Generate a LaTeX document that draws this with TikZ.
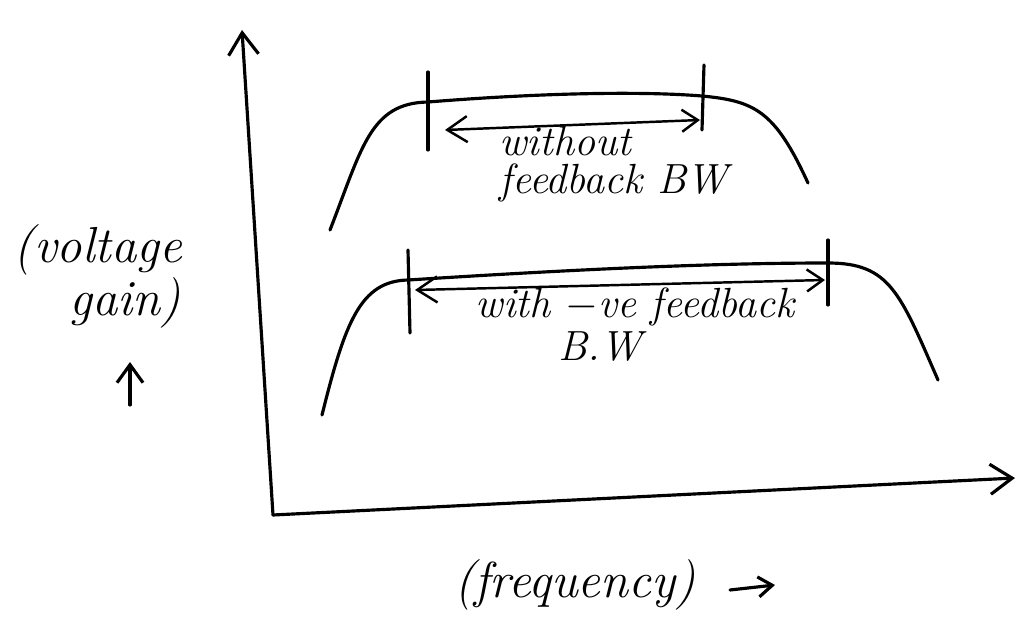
\documentclass[tikz,border=0pt]{standalone}
\usepackage{amsmath}
\usetikzlibrary{arrows.meta}

\tikzset{
 pen/.style={line width=0.9pt, line cap=round, line join=round},
 axisarrow/.style={pen, -{Straight Barb[length=2.2mm,width=3mm]}},
 bwarrow/.style={pen, line width=0.7pt, {Straight Barb[length=2mm,width=2.6mm]}-{Straight Barb[length=1.6mm,width=2.2mm]}},
 marker/.style={pen},
 handtext/.style={font=\itshape\large, inner sep=0.5pt},
 bigtext/.style={font=\itshape\Large, inner sep=1pt}
}

\begin{document}
\begin{tikzpicture}
\useasboundingbox (0,0) rectangle (10.21,6.43);
%%%%%axes start here
\coordinate (O) at (2.73,1.28);
\coordinate (ytip) at (2.42,6.13);
\coordinate (xtip) at (10.15,1.65);
\draw[axisarrow] (O) -- (ytip);
\draw[axisarrow] (O) -- (xtip);

%%%%%without feedback curve
\coordinate (a1) at (3.30,4.13);
\coordinate (a2) at (4.28,5.41);
\coordinate (a3) at (7.02,5.47);
\coordinate (a4) at (8.08,4.60);
\draw[pen] (a1) .. controls (3.62,4.95) and (3.70,5.40) .. (a2)
 .. controls (5.40,5.50) and (6.40,5.52) .. (a3)
 .. controls (7.55,5.42) and (7.75,5.32) .. (a4);
\coordinate (ua) at (4.28,5.71);
\coordinate (ub) at (4.28,4.93);
\coordinate (uc) at (7.04,5.78);
\coordinate (ud) at (7.02,5.13);
\draw[marker] (ua) -- (ub);
\draw[marker] (uc) -- (ud);
\coordinate (ul) at (4.45,5.13);
\coordinate (ur) at (7.00,5.23);
\draw[bwarrow] (ul) -- (ur);
\node[handtext, anchor=west, align=left] (wobw) at (4.97,4.79) {without\\[-3pt]feedback BW};

%%%%%with -ve feedback curve
\coordinate (b1) at (3.22,2.28);
\coordinate (b2) at (4.08,3.63);
\coordinate (b3) at (8.28,3.80);
\coordinate (b4) at (9.38,2.63);
\draw[pen] (b1) .. controls (3.45,3.20) and (3.60,3.62) .. (b2)
 .. controls (5.50,3.72) and (7.00,3.80) .. (b3)
 .. controls (8.90,3.80) and (9.00,3.50) .. (b4);
\coordinate (la) at (4.08,3.93);
\coordinate (lb) at (4.10,3.10);
\coordinate (lc) at (8.28,4.03);
\coordinate (ld) at (8.28,3.38);
\draw[marker] (la) -- (lb);
\draw[marker] (lc) -- (ld);
\coordinate (ll) at (4.15,3.53);
\coordinate (lr) at (8.25,3.63);
\draw[bwarrow] (ll) -- (lr);
\node[handtext] (wf) at (6.35,3.36) {with $-$ve feedback};
\node[handtext] (wfbw) at (6.00,2.96) {B.W};

%%%%%axis labels
\node[bigtext] (vg) at (0.98,3.93) {(voltage};
\node[bigtext] (gn) at (1.25,3.40) {gain)};
\coordinate (vga) at (1.30,2.38);
\coordinate (vgb) at (1.30,2.81);
\draw[axisarrow, -{Straight Barb[length=1.8mm,width=2.6mm]}] (vga) -- (vgb);
\node[bigtext] (fq) at (5.75,0.58) {(frequency)};
\coordinate (fqa) at (7.30,0.53);
\coordinate (fqb) at (7.75,0.58);
\draw[axisarrow, -{Straight Barb[length=1.4mm,width=2mm]}] (fqa) -- (fqb);
\end{tikzpicture}
\end{document}
